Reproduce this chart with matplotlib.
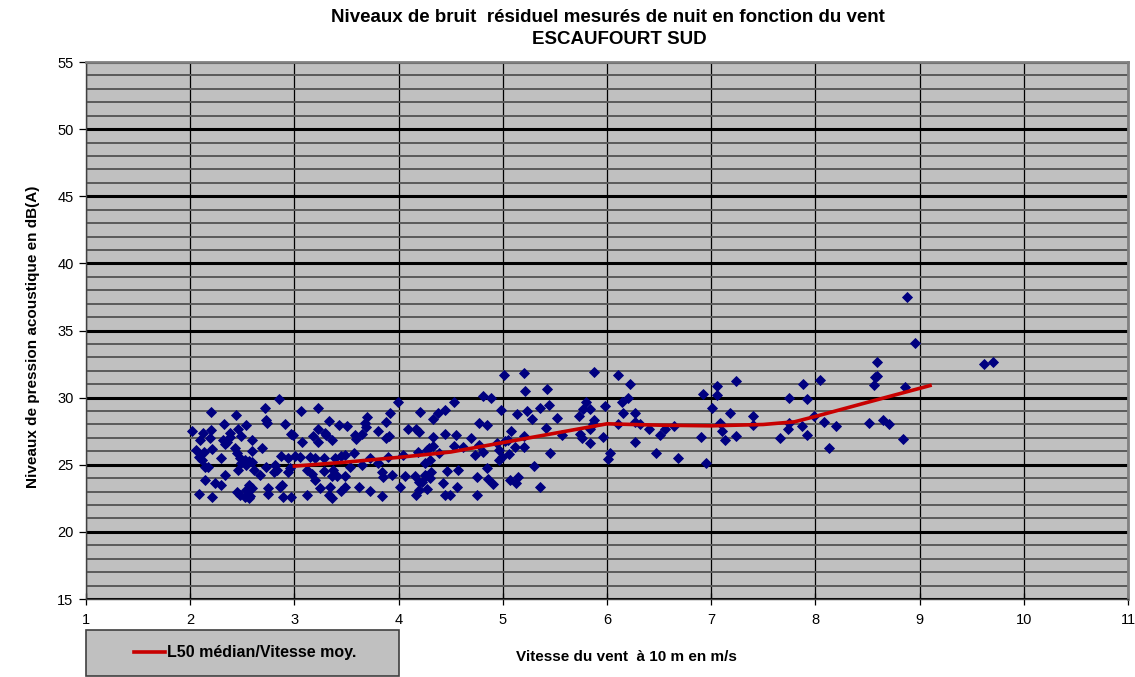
import matplotlib
matplotlib.use("Agg")
import matplotlib.pyplot as plt
from matplotlib.ticker import MultipleLocator
from matplotlib.patches import Rectangle

# mesures de nuit : vitesse du vent (m/s) et niveau residuel (dB(A))
vent = [
    2.02, 2.20, 2.44, 2.72, 2.85, 3.06, 2.73, 2.74, 2.91, 2.32, 2.54, 2.46, 2.20, 2.12,
    2.38, 2.49, 2.97, 2.99, 2.09, 2.19, 2.31, 2.35, 2.33, 2.38, 2.59, 3.07, 2.06, 2.13,
    2.21, 2.43, 2.45, 2.59, 2.69, 2.87, 2.94, 3.01, 2.08, 2.11, 2.30, 2.48, 2.53, 2.56,
    2.59, 2.14, 2.17, 2.49, 2.54, 2.46, 2.61, 2.73, 2.81, 2.83, 2.80, 2.96, 2.94, 2.67,
    2.33, 2.14, 2.24, 2.30, 2.56, 2.59, 2.54, 2.75, 2.86, 2.88, 2.08, 2.21, 2.45, 2.48,
    2.53, 2.57, 2.56, 2.75, 2.89, 2.97, 3.12,
    3.23, 3.99, 3.33, 3.43, 3.50, 3.70, 3.68, 3.69, 3.92, 3.88, 4.21, 3.23, 3.29, 3.30,
    3.18, 3.23, 3.36, 3.58, 3.59, 3.65, 3.80, 3.88, 3.91, 4.09, 4.17, 4.20, 3.05, 3.15,
    3.20, 3.28, 3.39, 3.45, 3.49, 3.57, 3.53, 3.65, 3.73, 3.80, 3.90, 4.04, 4.19, 4.27,
    3.12, 3.17, 3.20, 3.28, 3.37, 3.36, 3.41, 3.49, 3.84, 3.85, 3.94, 4.06, 4.16, 4.20,
    4.26, 3.25, 3.34, 3.45, 3.49, 3.62, 3.73, 4.01, 3.33, 3.36, 3.84, 4.17, 4.20,
    5.01, 5.20, 5.21, 5.42, 4.81, 4.89, 4.53, 4.45, 4.38, 4.33, 4.98, 5.14, 5.23, 5.28,
    5.36, 5.44, 4.77, 4.85, 4.33, 4.45, 4.55, 4.69, 5.08, 5.05, 5.02, 5.20, 5.41, 4.29,
    4.33, 4.53, 4.62, 4.77, 4.94, 4.73, 4.81, 4.96, 5.12, 5.20, 5.06, 4.96, 4.99, 4.30,
    4.25, 4.39, 5.30, 4.31, 4.46, 4.57, 4.85, 4.25, 4.22, 4.30, 4.75, 4.86, 4.91, 5.07,
    5.15, 5.13, 4.27, 4.43, 4.56, 5.36, 4.45, 4.49, 4.75,
    5.88, 6.11, 6.22, 5.80, 5.77, 5.84, 5.73, 5.98, 5.88, 5.87, 5.84, 5.52, 6.14, 6.20,
    6.15, 6.27, 5.57, 5.74, 5.76, 5.84, 5.96, 6.11, 6.27, 6.32, 6.40, 6.51, 6.56, 6.64,
    6.27, 5.45, 6.03, 6.01, 6.47, 6.68,
    6.90, 6.95, 6.92, 7.06, 7.06, 7.01, 7.08, 7.10, 7.13, 7.18, 7.24, 7.24, 7.40, 7.40,
    7.66, 7.75, 7.75, 7.74, 7.87, 7.92, 7.88, 7.92, 8.04, 7.99, 8.08, 8.13,
    8.88, 8.96, 8.59, 8.57, 8.59, 8.56, 8.86, 9.62, 9.70, 8.20, 8.51, 8.65, 8.71, 8.84,
]
niveau = [
    27.55, 28.96, 28.70, 29.26, 29.93, 29.00, 28.30, 28.10, 28.00, 28.05, 27.97, 27.65, 27.60, 27.40,
    27.35, 27.15, 27.30, 27.20, 26.85, 26.98, 26.85, 26.73, 26.55, 27.10, 26.85, 26.73, 26.10, 25.98,
    26.16, 26.23, 25.86, 26.06, 26.23, 25.66, 25.49, 25.66, 25.56, 25.36, 25.49, 25.49, 25.36, 25.31,
    25.24, 24.87, 24.82, 25.12, 24.99, 24.62, 24.62, 24.87, 24.99, 24.62, 24.49, 24.75, 24.49, 24.25,
    24.25, 23.88, 23.63, 23.50, 23.50, 23.26, 23.13, 23.26, 23.38, 23.50, 22.83, 22.63, 23.00, 22.76,
    22.63, 22.68, 22.51, 22.83, 22.63, 22.63, 22.76,
    29.21, 29.66, 28.27, 27.97, 27.85, 28.55, 28.10, 27.80, 28.84, 28.22, 28.92, 27.65, 27.40, 27.23,
    27.15, 26.73, 26.85, 27.23, 26.90, 27.28, 27.55, 26.98, 27.15, 27.65, 27.65, 27.47, 25.61, 25.56,
    25.49, 25.49, 25.49, 25.66, 25.74, 25.91, 24.87, 24.99, 25.49, 25.12, 25.56, 25.74, 25.98, 26.11,
    24.62, 24.32, 23.88, 24.57, 24.62, 24.13, 24.18, 24.13, 24.49, 24.07, 24.25, 24.13, 24.18, 23.68,
    24.13, 23.26, 23.33, 23.08, 23.38, 23.38, 23.03, 23.33, 22.76, 22.51, 22.71, 22.76, 23.13,
    31.69, 31.82, 30.53, 30.63, 30.13, 29.96, 29.66, 29.09, 28.89, 28.39, 29.09, 28.77, 28.97, 28.40,
    29.21, 29.46, 28.14, 27.97, 27.10, 27.30, 27.23, 26.98, 27.55, 26.85, 26.80, 27.15, 27.73, 26.23,
    26.40, 26.40, 26.31, 26.48, 26.61, 25.74, 25.98, 26.11, 26.31, 26.31, 25.81, 25.36, 25.61, 25.36,
    25.12, 25.86, 24.91, 24.49, 24.57, 24.62, 24.75, 24.25, 23.75, 24.00, 24.07, 23.92, 23.58, 23.88,
    24.07, 23.63, 23.18, 23.63, 23.33, 23.33, 22.76, 22.76, 22.76,
    31.94, 31.69, 31.02, 29.71, 29.16, 29.14, 28.64, 29.34, 28.34, 28.05, 27.65, 28.52, 29.71, 29.96,
    28.84, 28.84, 27.23, 27.30, 26.98, 26.65, 27.10, 28.05, 28.22, 28.05, 27.65, 27.23, 27.65, 27.85,
    26.73, 25.86, 25.86, 25.41, 25.86, 25.49,
    27.05, 25.12, 30.28, 30.83, 30.20, 29.26, 28.14, 27.55, 26.85, 28.84, 27.15, 31.25, 28.64, 27.97,
    26.98, 29.96, 28.14, 27.67, 27.85, 27.23, 31.00, 29.91, 31.32, 28.64, 28.22, 26.23,
    37.48, 34.10, 32.68, 31.57, 31.64, 30.95, 30.78, 32.51, 32.64, 27.85, 28.10, 28.34, 28.02, 26.93,
]

# courbe L50 par classe de vitesse
l50_vent = [3.0, 3.5, 4.0, 4.5, 5.0, 5.5, 6.0, 6.5, 7.0, 7.5, 7.8, 8.0, 8.5, 9.1]
l50_niveau = [24.9, 25.2, 25.55, 25.95, 26.65, 27.35, 28.05, 27.95, 27.9, 28.0, 28.2, 28.6, 29.65, 30.9]

plt.rcParams['font.family'] = ['Liberation Sans', 'DejaVu Sans']

fig = plt.figure(figsize=(11.35, 6.77), dpi=100)
ax = fig.add_axes([0.0758, 0.1152, 0.918, 0.7932])
ax.set_facecolor('#C0C0C0')

ax.plot(vent, niveau, 'D', color='#000080', markersize=4.6, markeredgewidth=0.6, zorder=3)
ax.plot(l50_vent, l50_niveau, '-', color='#C80000', lw=2.6, zorder=4,
        label='L50 médian/Vitesse moy.')

ax.set_xlim(1, 11)
ax.set_ylim(15, 55)
ax.xaxis.set_major_locator(MultipleLocator(1))
ax.yaxis.set_major_locator(MultipleLocator(5))
ax.yaxis.set_minor_locator(MultipleLocator(1))

ax.set_axisbelow(True)
ax.grid(axis='y', which='minor', color='#5a5a5a', lw=1.4)
ax.grid(axis='y', which='major', color='black', lw=2.2)
ax.grid(axis='x', which='major', color='black', lw=0.9)

ax.tick_params(axis='y', which='minor', length=0)
ax.tick_params(axis='both', which='major', labelsize=10.5, color='black', width=0.9)
ax.tick_params(axis='y', which='major', direction='out', length=5, pad=4)
ax.tick_params(axis='x', which='major', direction='inout', length=8, pad=6)

for side in ['top', 'right']:
    ax.spines[side].set_color('#808080')
    ax.spines[side].set_linewidth(2)
for side in ['left', 'bottom']:
    ax.spines[side].set_color('#404040')
    ax.spines[side].set_linewidth(1)

fig.text(608 / 1135, 1 - 18 / 677, "Niveaux de bruit  résiduel mesurés de nuit en fonction du vent",
         ha='center', va='center', fontsize=13.5, fontweight='bold')
fig.text(619 / 1135, 1 - 40 / 677, "ESCAUFOURT SUD",
         ha='center', va='center', fontsize=13.5, fontweight='bold')
fig.text(0.029, 1 - 337 / 677, "Niveaux de pression acoustique en dB(A)", rotation=90,
         ha='center', va='center', fontsize=11, fontweight='bold')
fig.text(626 / 1135, 1 - 657 / 677, "Vitesse du vent  à 10 m en m/s", ha='center', va='center',
         fontsize=11, fontweight='bold')

# cadre de la legende
box = Rectangle((86 / 1135, 1 / 677), 313 / 1135, 46 / 677, transform=fig.transFigure,
                facecolor='#C0C0C0', edgecolor='#404040', lw=1.2)
fig.patches.append(box)
fig.legend(loc='center', bbox_to_anchor=(245 / 1135, 24 / 677), frameon=False,
           prop={'weight': 'bold', 'size': 11.5}, handlelength=2.0, handletextpad=0.1)

fig.savefig('out.png', dpi=100)
